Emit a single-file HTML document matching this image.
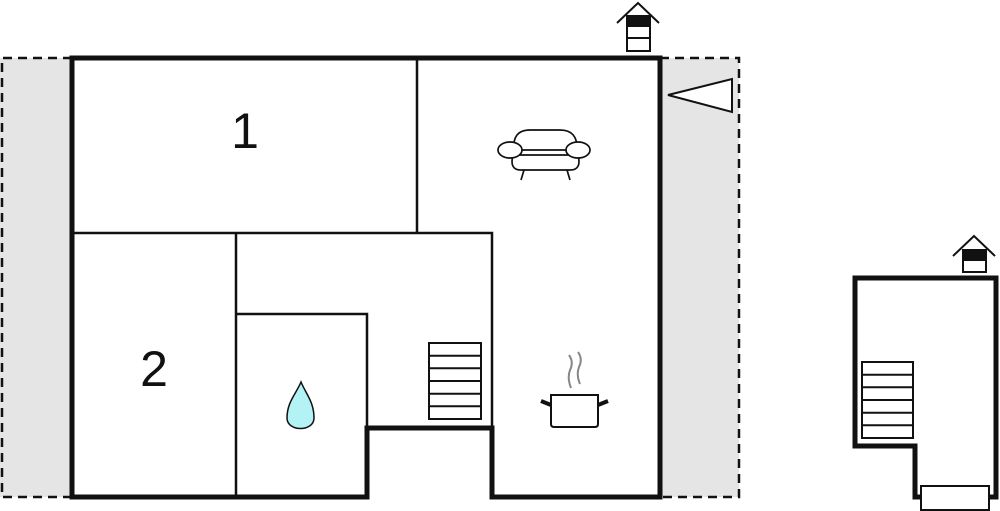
<!DOCTYPE html>
<html><head><style>body{margin:0;background:#fff}svg{display:block}</style></head><body>
<svg width="1000" height="511" viewBox="0 0 1000 511" xmlns="http://www.w3.org/2000/svg" font-family="Liberation Sans, sans-serif">
<rect x="0" y="58" width="72" height="439" fill="#e5e5e5"/>
<rect x="660" y="58" width="79" height="439" fill="#e5e5e5"/>
<g stroke="#111" stroke-width="2.5" stroke-dasharray="9,6" fill="none">
<path d="M72 58 H2 V497 H72"/>
<path d="M660 58 H739 V497 H660"/>
</g>
<rect x="72" y="58" width="588" height="439" fill="#fff"/>
<rect x="367" y="428" width="125" height="72" fill="#fff"/>
<g stroke="#111" stroke-width="2.5" fill="none">
<path d="M72 233 H492 V428"/>
<path d="M417 58 V233"/>
<path d="M236 233 V497"/>
<path d="M236 314 H367 V428"/>
</g>
<path d="M72 58 H660 V497 H492 V428 H367 V497 H72 Z" fill="none" stroke="#111" stroke-width="5"/>
<text x="245" y="148" font-size="50" text-anchor="middle" fill="#111">1</text>
<text x="154" y="386" font-size="50" text-anchor="middle" fill="#111">2</text>
<g stroke="#111" stroke-width="2" fill="#fff">
<rect x="429" y="343" width="52" height="76"/>
<path d="M429 355.7H481M429 368.3H481M429 381H481M429 393.7H481M429 406.3H481"/>
<rect x="862" y="362" width="51" height="76"/>
<path d="M862 374.7H913M862 387.3H913M862 400H913M862 412.7H913M862 425.3H913"/>
</g>
<path d="M301 382 C296 394 287 402 287 418 C287 432 314 432 314 418 C314 402 306 394 301 382 Z" fill="#b3f2f5" stroke="#111" stroke-width="1.5"/>
<g stroke="#111" fill="#fff">
<path d="M551 395 H598 V424 Q598 427 595 427 H554 Q551 427 551 424 Z" stroke-width="2"/>
<path d="M551 405 L541 401 M598 405 L608 401" stroke-width="4"/>
</g>
<g stroke="#888" stroke-width="2" fill="none">
<path d="M569 355 Q574 362 570 370 Q567 378 571 388"/>
<path d="M578 352 Q583 359 579 367 Q576 375 580 384"/>
</g>
<g stroke="#111" stroke-width="1.7" fill="#fff">
<path d="M514 150 Q512 130 530 130 H560 Q578 130 577 150 Z"/>
<path d="M513 155 H578 Q582 170 570 170 H521 Q509 170 513 155 Z"/>
<ellipse cx="510" cy="150" rx="12" ry="8"/>
<ellipse cx="578" cy="150" rx="12" ry="8"/>
<path d="M524 170 L521 180 M567 170 L570 180" fill="none"/>
</g>
<path d="M668 95 L732 79 L732 112 Z" fill="#fff" stroke="#111" stroke-width="2"/>
<g stroke="#111" fill="none" stroke-width="2">
<path d="M617 23 L638 3 L659 23"/>
<rect x="627" y="16" width="23" height="35" fill="#fff"/>
<path d="M627 38 H650"/>
<path d="M953 256 L974 236 L995 256"/>
<rect x="963" y="250" width="23" height="22" fill="#fff"/>
</g>
<rect x="627" y="16" width="23" height="11" fill="#111"/>
<rect x="963" y="250" width="23" height="11" fill="#111"/>
<path d="M855 278 H996 V497 H915 V446 H855 Z" fill="none" stroke="#111" stroke-width="5"/>
<rect x="921" y="486" width="68" height="24" fill="#fff" stroke="#111" stroke-width="2"/>
</svg>
</body></html>
